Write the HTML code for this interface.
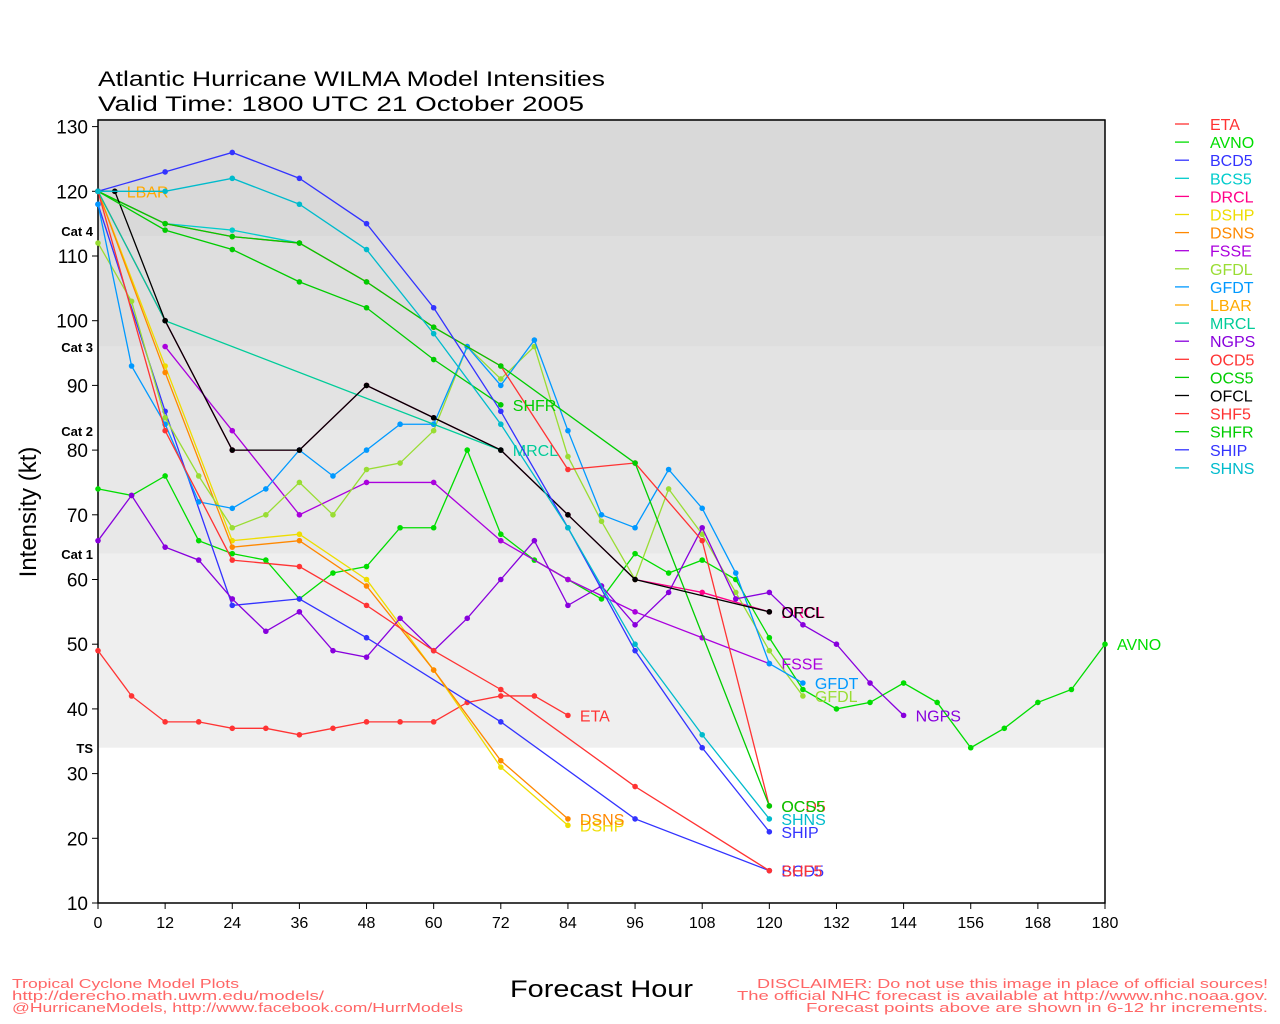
<!DOCTYPE html>
<html><head><meta charset="utf-8"><style>
body{margin:0;background:#fff;}
svg{display:block;font-family:"Liberation Sans",sans-serif;}
</style></head><body>
<svg id="s" width="1280" height="1024" xmlns="http://www.w3.org/2000/svg"></svg>
<script>
const s=document.getElementById('s');
const X=h=>98+h*1007/180, Y=v=>903-(v-10)*6.47;
let o='';
const bands=[[131.2,113,'#d9d9d9'],[113,96,'#dedede'],[96,83,'#e3e3e3'],[83,64,'#e8e8e8'],[64,34,'#efefef']];
for(const b of bands)o+=`<rect x="98" y="${Y(b[0])}" width="1007" height="${Y(b[1])-Y(b[0])}" fill="${b[2]}"/>`;
o+=`<rect x="98" y="120" width="1007" height="783" fill="none" stroke="#000" stroke-width="1.5"/>`;
for(let v=10;v<=130;v+=10){o+=`<line x1="92" x2="98" y1="${Y(v)}" y2="${Y(v)}" stroke="#000"/><text x="88" y="${Y(v)+7}" font-size="19" text-anchor="end">${v}</text>`;}
for(let h=0;h<=180;h+=12){o+=`<line x1="${X(h)}" x2="${X(h)}" y1="903" y2="909" stroke="#000"/><text x="${X(h)}" y="928" font-size="16" text-anchor="middle">${h}</text>`;}
[['Cat 4',231],['Cat 3',347],['Cat 2',431],['Cat 1',554],['TS',748]].forEach(c=>o+=`<text x="93" y="${c[1]+5}" font-size="13" font-weight="bold" text-anchor="end">${c[0]}</text>`);
const S={
ETA:['#ff3333',[[0,49],[6,42],[12,38],[18,38],[24,37],[30,37],[36,36],[42,37],[48,38],[54,38],[60,38],[66,41],[72,42],[78,42],[84,39]]],
AVNO:['#00dd00',[[0,74],[6,73],[12,76],[18,66],[24,64],[30,63],[36,57],[42,61],[48,62],[54,68],[60,68],[66,80],[72,67],[78,63],[84,60],[90,57],[96,64],[102,61],[108,63],[114,60],[120,51],[126,43],[132,40],[138,41],[144,44],[150,41],[156,34],[162,37],[168,41],[174,43],[180,50]]],
BCD5:['#3333ff',[[0,118],[12,86],[24,56],[36,57],[48,51],[72,38],[96,23],[120,15]]],
BCS5:['#00cccc',[[0,120],[12,115],[24,114],[36,112]]],
DRCL:['#ff0088',[[0,120],[12,100],[24,80],[36,80],[48,90],[60,85],[72,80],[84,70],[96,60],[108,58],[120,55]]],
DSHP:['#eedd00',[[0,120],[12,93],[24,66],[36,67],[48,60],[60,46],[72,31],[84,22]]],
DSNS:['#ff8800',[[0,120],[12,92],[24,65],[36,66],[48,59],[60,46],[72,32],[84,23]]],
FSSE:['#aa00dd',[[12,96],[24,83],[36,70],[48,75],[60,75],[72,66],[84,60],[96,55],[108,51],[120,47]]],
GFDL:['#99dd33',[[0,112],[6,103],[12,85],[18,76],[24,68],[30,70],[36,75],[42,70],[48,77],[54,78],[60,83],[66,96],[72,91],[78,96],[84,79],[90,69],[96,60],[102,74],[108,67],[114,58],[120,49],[126,42]]],
GFDT:['#0099ff',[[0,118],[6,93],[12,84],[18,72],[24,71],[30,74],[36,80],[42,76],[48,80],[54,84],[60,84],[66,96],[72,90],[78,97],[84,83],[90,70],[96,68],[102,77],[108,71],[114,61],[120,47],[126,44]]],
LBAR:['#ffaa00',[[0,120],[3,120]]],
MRCL:['#00cc99',[[0,120],[12,100],[72,80]]],
NGPS:['#8800dd',[[0,66],[6,73],[12,65],[18,63],[24,57],[30,52],[36,55],[42,49],[48,48],[54,54],[60,49],[66,54],[72,60],[78,66],[84,56],[90,59],[96,53],[102,58],[108,68],[114,57],[120,58],[126,53],[132,50],[138,44],[144,39]]],
OCD5:['#ff3333',[[0,120],[12,115],[24,113],[36,112],[48,106],[60,99],[72,93],[84,77],[96,78],[108,66],[120,25]]],
OCS5:['#00cc00',[[0,120],[12,115],[24,113],[36,112],[48,106],[60,99],[72,93],[96,78],[120,25]]],
OFCL:['#000000',[[0,120],[3,120],[12,100],[24,80],[36,80],[48,90],[60,85],[72,80],[84,70],[96,60],[120,55]]],
SHF5:['#ff3333',[[0,120],[12,83],[24,63],[36,62],[48,56],[60,49],[72,43],[96,28],[120,15]]],
SHFR:['#00cc00',[[0,120],[12,114],[24,111],[36,106],[48,102],[60,94],[72,87]]],
SHIP:['#3333ff',[[0,120],[12,123],[24,126],[36,122],[48,115],[60,102],[72,86],[84,68],[96,49],[108,34],[120,21]]],
SHNS:['#00bbcc',[[0,120],[12,120],[24,122],[36,118],[48,111],[60,98],[72,84],[84,68],[96,50],[108,36],[120,23]]]
};
let i=0;
for(const k in S){const [c,d]=S[k];
o+=`<polyline fill="none" stroke="${c}" stroke-width="1.3" points="${d.map(p=>X(p[0])+','+Y(p[1])).join(' ')}"/>`;
d.forEach(p=>o+=`<circle cx="${X(p[0])}" cy="${Y(p[1])}" r="2.8" fill="${c}"/>`);
const p=d[d.length-1];if(k!=='BCS5')o+=`<text x="${X(p[0])+12}" y="${Y(p[1])+6}" font-size="16" fill="${c}">${k}</text>`;
const ly=124+i*18.1;o+=`<line x1="1175" x2="1189" y1="${ly}" y2="${ly}" stroke="${c}" stroke-width="1.3"/><text x="1210" y="${ly+6}" font-size="16" fill="${c}">${k}</text>`;i++;}
o+=`<text x="98" y="86" font-size="21" textLength="507" lengthAdjust="spacingAndGlyphs">Atlantic Hurricane WILMA Model Intensities</text><text x="98" y="111" font-size="21" textLength="486" lengthAdjust="spacingAndGlyphs">Valid Time: 1800 UTC 21 October 2005</text>`;
o+=`<text transform="translate(36,512) rotate(-90)" font-size="24" text-anchor="middle">Intensity (kt)</text>`;
o+=`<text x="510" y="997" font-size="24" textLength="183" lengthAdjust="spacingAndGlyphs">Forecast Hour</text>`;
o+=`<g font-size="13" fill="#ff6666"><text x="12" y="988" textLength="227" lengthAdjust="spacingAndGlyphs">Tropical Cyclone Model Plots</text><text x="12" y="1000" textLength="312" lengthAdjust="spacingAndGlyphs">http://derecho.math.uwm.edu/models/</text><text x="12" y="1012" textLength="451" lengthAdjust="spacingAndGlyphs">@HurricaneModels, http://www.facebook.com/HurrModels</text>
<text x="757" y="988" textLength="511" lengthAdjust="spacingAndGlyphs">DISCLAIMER: Do not use this image in place of official sources!</text><text x="737" y="1000" textLength="531" lengthAdjust="spacingAndGlyphs">The official NHC forecast is available at http://www.nhc.noaa.gov.</text><text x="806" y="1012" textLength="462" lengthAdjust="spacingAndGlyphs">Forecast points above are shown in 6-12 hr increments.</text></g>`;
s.innerHTML=o;
</script>
</body></html>
